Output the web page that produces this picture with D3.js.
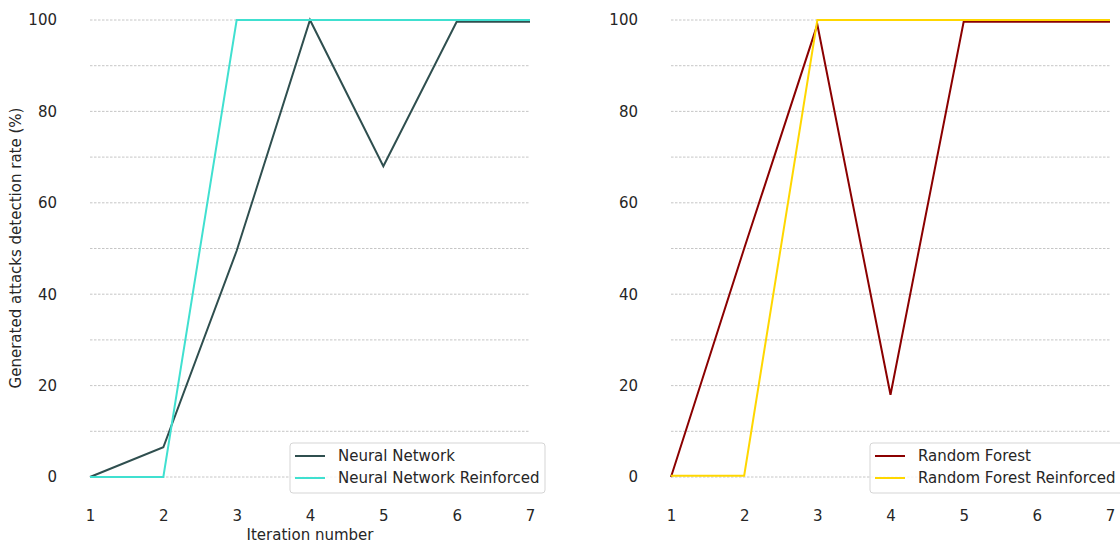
<!doctype html>
<html>
<head>
<meta charset="utf-8">
<script src="https://cdn.jsdelivr.net/npm/d3@7"></script>
<style>
  body { margin: 0; background: #fff; }
  text { font-family: "DejaVu Sans", sans-serif; fill: #262626; }
</style>
</head>
<body>
<svg width="1120" height="544" id="chart"></svg>
<script>
// data
var iterations = [1, 2, 3, 4, 5, 6, 7];
var nnValues = [0, 6.5, 49.5, 100, 68, 99.6, 99.6];
var nnReinforced = [0, 0, 100, 100, 100, 100, 100];
var rfValues = [0, 50, 99, 18, 99.6, 99.6, 99.6];
var rfReinforced = [0.3, 0.3, 100, 100, 100, 100, 100];
var yTicks = [0, 20, 40, 60, 80, 100];
var yGrid = [0, 10, 20, 30, 40, 50, 60, 70, 80, 90, 100];

var svg = d3.select("#chart");

// shared y scale
var y = d3.scaleLinear().domain([0, 100]).range([477, 20]);

function panel(x0, x1, series, showYLabel, showXLabel) {
    var x = d3.scaleLinear().domain([1, 7]).range([x0, x1]);
    var g = svg.append("g");

    // dashed grid
    g.selectAll(".grid")
     .data(yGrid)
     .enter().append("line")
     .attr("x1", x0).attr("x2", x1)
     .attr("y1", function(d) { return y(d); })
     .attr("y2", function(d) { return y(d); })
     .attr("stroke", "#b8b8b8")
     .attr("stroke-width", 0.8)
     .attr("stroke-dasharray", "2.5,1.5");

    // y axis (no domain line)
    var ya = g.append("g")
        .attr("transform", "translate(" + x0 + ",0)")
        .call(d3.axisLeft(y).tickValues(yTicks).tickFormat(d3.format("d")).tickSize(0).tickPadding(33));
    ya.select(".domain").remove();
    ya.selectAll("text").style("font-size", "15px").style("font-family", "DejaVu Sans");

    // x axis
    var xa = g.append("g")
        .attr("transform", "translate(0,508)")
        .call(d3.axisBottom(x).tickValues(iterations).tickFormat(d3.format("d")).tickSize(0).tickPadding(2));
    xa.select(".domain").remove();
    xa.selectAll("text").style("font-size", "15px").style("font-family", "DejaVu Sans");

    var line = d3.line()
        .x(function(d, i) { return x(iterations[i]); })
        .y(function(d) { return y(d); });

    series.forEach(function(s) {
        g.append("path")
         .datum(s.values)
         .attr("d", line)
         .attr("fill", "none")
         .attr("stroke", s.color)
         .attr("stroke-width", 2);
    });

    // legend
    var lx = x1 - 240, ly = 443;
    var lg = g.append("g").attr("transform", "translate(" + lx + "," + ly + ")");
    lg.append("rect")
      .attr("x", 0).attr("y", 0)
      .attr("width", 255).attr("height", 50)
      .attr("rx", 3)
      .attr("fill", "rgba(255,255,255,0.8)")
      .attr("stroke", "#d5d5d5");
    series.forEach(function(s, i) {
        lg.append("line")
          .attr("x1", 5).attr("x2", 35)
          .attr("y1", 13 + i * 22).attr("y2", 13 + i * 22)
          .attr("stroke", s.color).attr("stroke-width", 2);
        lg.append("text")
          .attr("x", 48).attr("y", 18 + i * 22)
          .style("font-size", "15px")
          .text(s.name);
    });

    if (showXLabel) {
        svg.append("text")
           .attr("x", (x0 + x1) / 2).attr("y", 540)
           .attr("text-anchor", "middle")
           .style("font-size", "15px")
           .text("Iteration number");
    }
    if (showYLabel) {
        svg.append("text")
           .attr("transform", "translate(21,248) rotate(-90)")
           .attr("text-anchor", "middle")
           .style("font-size", "15px")
           .text("Generated attacks detection rate (%)");
    }
}

panel(90, 530, [
    {name: "Neural Network", values: nnValues, color: "#2f4f4f"},
    {name: "Neural Network Reinforced", values: nnReinforced, color: "#40e0d0"}
], true, true);

panel(671, 1110, [
    {name: "Random Forest", values: rfValues, color: "#8b0000"},
    {name: "Random Forest Reinforced", values: rfReinforced, color: "#ffd700"}
], false, false);
</script>
</body>
</html>
